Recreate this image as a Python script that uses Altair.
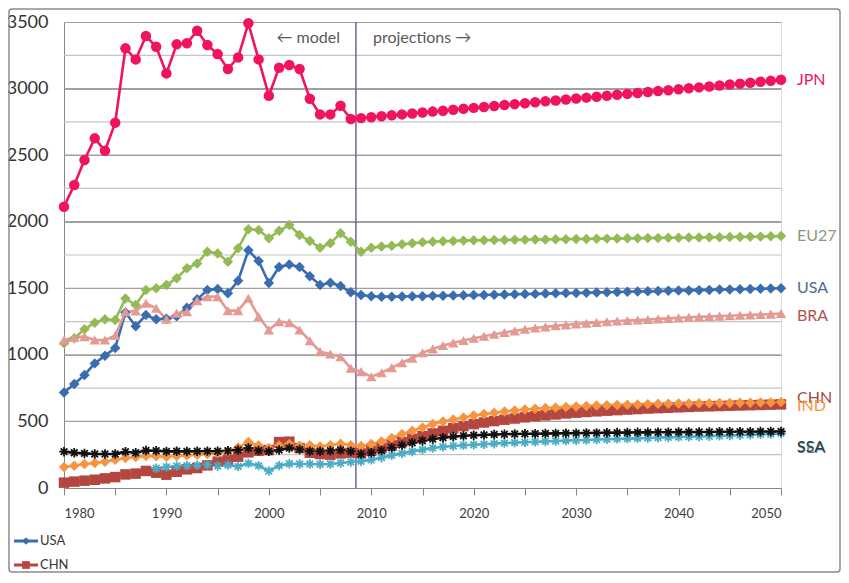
import altair as alt
import pandas as pd

years = list(range(1980, 2051))

usa = [718, 781, 849, 936, 994, 1052, 1318, 1215, 1299, 1267,
       1272, 1290, 1354, 1417, 1487, 1494, 1462, 1557, 1785, 1705,
       1540, 1660, 1678, 1660, 1590, 1525, 1542, 1517, 1470, 1450,
       1440, 1437, 1437, 1438, 1440, 1441, 1443, 1444, 1446, 1447,
       1449, 1450, 1452, 1453, 1455, 1457, 1458, 1460, 1462, 1464,
       1465, 1467, 1469, 1470, 1472, 1474, 1476, 1477, 1479, 1481,
       1483, 1484, 1486, 1488, 1490, 1491, 1493, 1495, 1496, 1498,
       1500]
chn = [40, 48, 55, 62, 72, 82, 102, 108, 128, 115,
       100, 122, 140, 150, 170, 198, 210, 235, 268, 280,
       285, 345, 348, 300, 265, 255, 250, 260, 265, 260,
       280, 300, 320, 345, 370, 390, 410, 430, 450, 465,
       480, 492, 503, 513, 522, 531, 539, 546, 553, 560,
       566, 571, 576, 581, 585, 589, 593, 597, 600, 603,
       606, 609, 612, 614, 616, 618, 620, 622, 624, 626,
       628]
eu27 = [1087, 1124, 1192, 1242, 1267, 1262, 1424, 1374, 1487, 1500,
        1525, 1575, 1650, 1687, 1775, 1762, 1700, 1800, 1943, 1938,
        1875, 1932, 1975, 1900, 1855, 1805, 1838, 1913, 1850, 1775,
        1805, 1813, 1820, 1830, 1838, 1845, 1850, 1853, 1856, 1858,
        1860, 1861, 1862, 1863, 1864, 1865, 1866, 1867, 1868, 1869,
        1870, 1871, 1872, 1873, 1874, 1875, 1876, 1877, 1878, 1879,
        1880, 1881, 1882, 1883, 1884, 1885, 1886, 1887, 1888, 1890,
        1892]
bra = [1111, 1132, 1137, 1111, 1111, 1145, 1324, 1330, 1387, 1350,
       1267, 1312, 1324, 1407, 1437, 1437, 1332, 1332, 1425, 1287,
       1187, 1249, 1242, 1187, 1106, 1024, 1006, 986, 899, 874,
       836, 866, 904, 941, 974, 1016, 1045, 1070, 1090, 1108,
       1125, 1140, 1155, 1168, 1180, 1192, 1202, 1210, 1218, 1225,
       1232, 1238, 1244, 1249, 1254, 1258, 1262, 1266, 1270, 1274,
       1278, 1282, 1285, 1288, 1291, 1294, 1297, 1300, 1303, 1306,
       1310]
ind = [158, 168, 180, 188, 198, 212, 225, 232, 240, 238,
       235, 240, 245, 250, 255, 262, 275, 305, 345, 320,
       300, 320, 330, 318, 322, 312, 322, 332, 322, 315,
       330, 350, 375, 405, 430, 455, 480, 500, 515, 530,
       545, 555, 565, 575, 582, 589, 595, 600, 605, 609,
       613, 616, 619, 622, 624, 626, 628, 630, 632, 633,
       634, 635, 636, 637, 638, 639, 640, 641, 642, 643,
       645]
jpn = [2113, 2276, 2463, 2626, 2533, 2744, 3302, 3219, 3395, 3314,
       3114, 3332, 3340, 3434, 3327, 3259, 3147, 3234, 3490, 3219,
       2946, 3157, 3177, 3147, 2924, 2806, 2806, 2871, 2771, 2778,
       2785, 2792, 2799, 2806, 2813, 2820, 2827, 2834, 2841, 2848,
       2855, 2862, 2869, 2876, 2883, 2890, 2897, 2904, 2911, 2918,
       2925, 2932, 2939, 2946, 2953, 2960, 2967, 2974, 2981, 2988,
       2995, 3002, 3009, 3016, 3023, 3030, 3037, 3044, 3051, 3058,
       3066]
sea_start = 1989
sea = [148,
       158, 165, 168, 170, 175, 165, 172, 162, 185, 168,
       128, 168, 182, 180, 180, 178, 180, 188, 195, 200,
       212, 228, 245, 260, 275, 288, 300, 310, 316, 321,
       325, 329, 333, 337, 341, 344, 347, 350, 353, 356,
       359, 361, 364, 366, 369, 371, 373, 376, 378, 380,
       383, 385, 387, 389, 392, 394, 397, 400, 403, 406,
       410]
ssa = [273, 265, 260, 255, 255, 255, 272, 265, 282, 280,
       275, 276, 275, 276, 277, 276, 280, 286, 300, 282,
       276, 286, 300, 290, 277, 276, 280, 286, 276, 255,
       265, 282, 302, 322, 340, 355, 368, 378, 386, 392,
       396, 399, 402, 404, 406, 407, 408, 409, 410, 411,
       412, 413, 414, 415, 416, 417, 418, 418, 419, 419,
       420, 420, 421, 421, 422, 422, 423, 423, 424, 424,
       425]

series_names = ["USA", "CHN", "EU27", "BRA", "IND", "JPN", "SEA", "SSA"]
series_values = [usa, chn, eu27, bra, ind, jpn, sea, ssa]
series_start = [1980, 1980, 1980, 1980, 1980, 1980, sea_start, 1980]
series_colors = ["#3A6DB0", "#B3473F", "#94BA56", "#E39A93", "#F7943F", "#F0145C", "#4BACC6", "#111111"]
label_colors = ["#4E6A92", "#A94A44", "#8A9A74", "#B0544F", "#F7943F", "#F0145C", "#3F8EA4", "#3A3A3A"]
asterisk = "M-1,0L1,0M0,-1L0,1M-0.7,-0.7L0.7,0.7M-0.7,0.7L0.7,-0.7"
series_shapes = ["diamond", "square", "diamond", "triangle-up", "diamond", "circle", asterisk, asterisk]
label_dy = [0, -6, 0, 2, 4, 0, 15, 16]

major_ticks = list(range(0, 3501, 500))
major_grid = list(range(500, 3500, 500))
minor_grid = list(range(250, 3500, 500))
divider_year = [2008.5]
annotations = ["\u2190 model", "projections \u2192"]
legend_names = ["USA", "CHN"]

rows = []
for name, vals, start in zip(series_names, series_values, series_start):
    for i, v in enumerate(vals):
        rows.append({"year": start + i, "value": v, "series": name})
df = pd.DataFrame(rows)

FONT = "Lato"
W, H = 717, 466

x_enc = alt.X("year:Q", scale=alt.Scale(domain=[1980, 2050], nice=False, zero=False),
              axis=alt.Axis(values=list(range(1980, 2051, 5)), format="d",
                            labelExpr="datum.value % 10 === 0 ? datum.label : ''",
                            grid=False, tickSize=7, tickColor="#868686", domainColor="#868686",
                            labelFontSize=13, labelPadding=12, labelColor="#404040",
                            labelFont=FONT, title=None))
y_enc = alt.Y("value:Q", scale=alt.Scale(domain=[0, 3500], nice=False),
              axis=alt.Axis(values=major_ticks, format="d",
                            grid=True, gridColor="#A0A0A0", gridWidth=1,
                            ticks=False, domainColor="#868686",
                            labelFontSize=18, labelPadding=16, labelColor="#333333",
                            labelFont=FONT, title=None))
color_enc = alt.Color("series:N", scale=alt.Scale(domain=series_names, range=series_colors), legend=None)
shape_enc = alt.Shape("series:N", scale=alt.Scale(domain=series_names, range=series_shapes), legend=None)

major = alt.Chart(pd.DataFrame({"value": major_grid})).mark_rule(
    color="#A0A0A0", strokeWidth=1.2).encode(y="value:Q", x=alt.value(0), x2=alt.value(W))
minor = alt.Chart(pd.DataFrame({"value": minor_grid})).mark_rule(
    color="#C4C4C4", strokeWidth=1.2).encode(y="value:Q", x=alt.value(0), x2=alt.value(W))

base = alt.Chart(df)
lines = base.mark_line(strokeWidth=2.6).encode(x=x_enc, y=y_enc, color=color_enc, detail="series:N")

filled_names = series_names[:6]
pts_filled = base.transform_filter(
    alt.FieldOneOfPredicate(field="series", oneOf=filled_names)
).mark_point(filled=True, opacity=1, size=110).encode(
    x="year:Q", y="value:Q", color=color_enc, shape=shape_enc)
pts_star = base.transform_filter(
    alt.FieldOneOfPredicate(field="series", oneOf=series_names[6:])
).mark_point(filled=False, opacity=1, size=90, strokeWidth=1.8).encode(
    x="year:Q", y="value:Q", color=color_enc, shape=shape_enc)

divider = alt.Chart(pd.DataFrame({"year": divider_year})).mark_rule(
    color="#6E62A6", strokeWidth=1.5).encode(x="year:Q")

ann_df = pd.DataFrame({"year": divider_year * 2, "text": annotations})
ann_left = alt.Chart(ann_df.iloc[[0]]).mark_text(
    align="right", baseline="middle", dx=-16, font=FONT, fontSize=16, color="#595959"
).encode(x="year:Q", y=alt.value(16), text="text:N")
ann_right = alt.Chart(ann_df.iloc[[1]]).mark_text(
    align="left", baseline="middle", dx=17, font=FONT, fontSize=16, color="#595959"
).encode(x="year:Q", y=alt.value(16), text="text:N")

end_layers = []
for name, vals, lc, dy in zip(series_names, series_values, label_colors, label_dy):
    edf = pd.DataFrame({"year": [2050], "value": [vals[-1]], "series": [name]})
    end_layers.append(
        alt.Chart(edf).mark_text(align="left", baseline="middle", dx=16, dy=dy,
                                 font=FONT, fontSize=16, color=lc)
        .encode(x="year:Q", y="value:Q", text="series:N"))

legend_layers = []
for i, name in enumerate(legend_names):
    idx = series_names.index(name)
    ly = 519 + i * 24
    ldf = pd.DataFrame({"series": [name]})
    legend_layers.append(alt.Chart(ldf).mark_rule(strokeWidth=3, color=series_colors[idx]).encode(
        x=alt.value(-50), x2=alt.value(-26), y=alt.value(ly)))
    legend_layers.append(alt.Chart(ldf).mark_point(filled=True, opacity=1, size=60,
                                                   shape=series_shapes[idx], color=series_colors[idx]).encode(
        x=alt.value(-38), y=alt.value(ly)))
    legend_layers.append(alt.Chart(ldf).mark_text(align="left", baseline="middle", font=FONT,
                                                  fontSize=13, color="#333333").encode(
        x=alt.value(-24), y=alt.value(ly), text="series:N"))

border = alt.Chart(pd.DataFrame({"series": ["frame"]})).mark_rect(
    fillOpacity=0, stroke="#8C8C8C", strokeWidth=1.5, cornerRadius=3
).encode(x=alt.value(-55), x2=alt.value(W + 59), y=alt.value(-13), y2=alt.value(H + 84))

chart = alt.layer(
    border, minor, major, divider, lines, pts_filled, pts_star, ann_left, ann_right, *end_layers, *legend_layers
).properties(
    width=W, height=H,
    autosize=alt.AutoSizeParams(type="none"),
    padding={"left": 56, "top": 14, "right": 60, "bottom": 85},
).configure_view(stroke="#8A8A8A", strokeWidth=1).configure(background="white")

chart.save("out.html", embed_options={"renderer": "svg", "actions": False})
